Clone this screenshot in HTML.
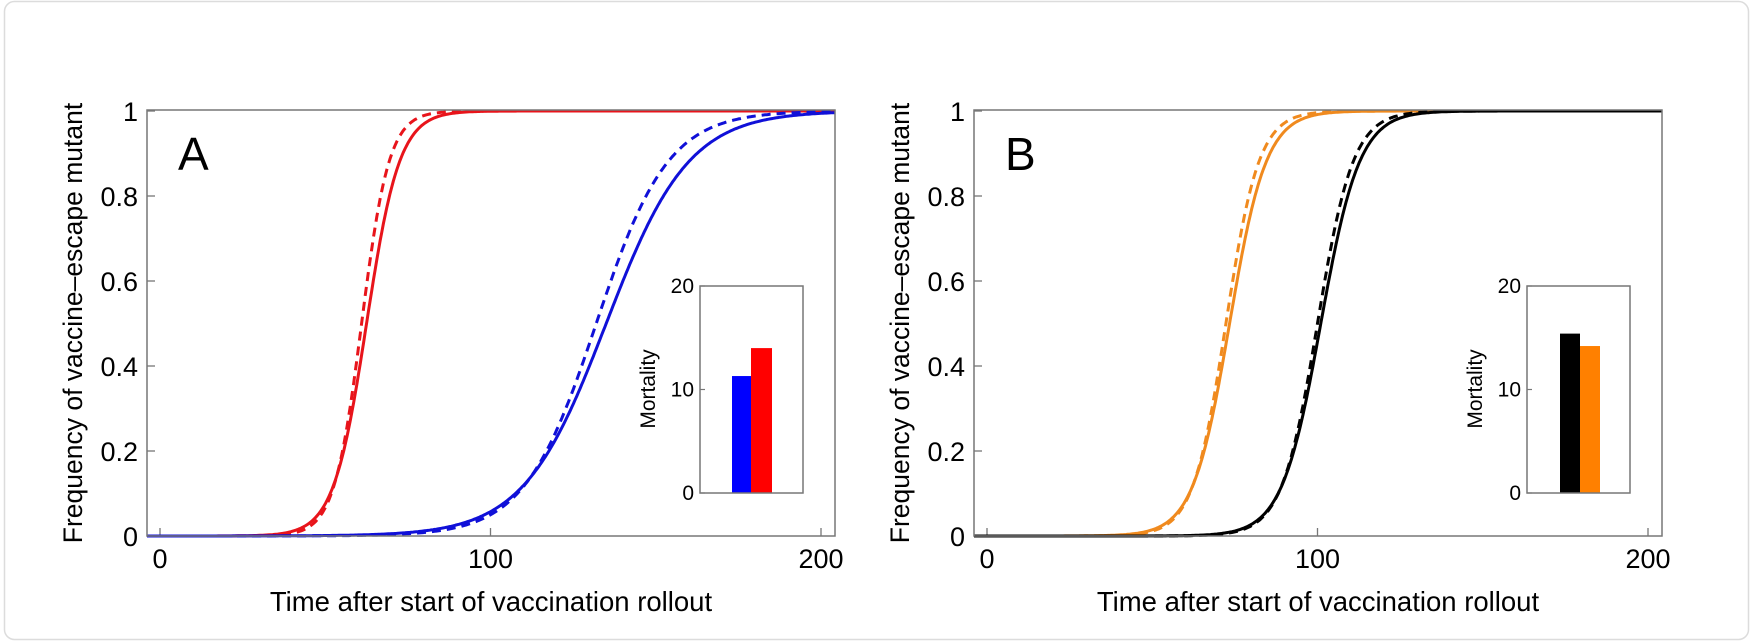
<!DOCTYPE html>
<html><head><meta charset="utf-8">
<style>
html,body{margin:0;padding:0;background:#fff;}
svg{display:block;font-family:"Liberation Sans",Arial,sans-serif;}
</style></head>
<body>
<svg id="s" width="1753" height="642" viewBox="0 0 1753 642" xmlns="http://www.w3.org/2000/svg">
<rect x="4.5" y="1.5" width="1744" height="638" rx="10" fill="#fff" stroke="#dcdcdc" stroke-width="1.5"/>
<g id="A"></g>
<g id="B" transform="translate(827,0)"></g>
</svg>
<script>
var NS="http://www.w3.org/2000/svg";
function el(p,tag,attrs,txt){var e=document.createElementNS(NS,tag);for(var k in attrs)e.setAttribute(k,attrs[k]);if(txt!==undefined)e.textContent=txt;p.appendChild(e);return e;}
var X0=147,X1=835,Y0=110,Y1=536;
function tx(t){return 160+t*3.305;}
function ty(v){return 536-v*425;}
function curve(mid,k){var d="";for(var t=-3.9;t<=204.3;t+=0.5){var v=1/(1+Math.exp(-k*(t-mid)));d+=(d?"L":"M")+tx(t).toFixed(1)+","+ty(v).toFixed(1);}return d;}
function panel(g,label,series,bars){
  el(g,"text",{x:0,y:0,transform:"translate(82,323) rotate(-90)","text-anchor":"middle","font-size":"26.5"},"Frequency of vaccine\u2013escape mutant");
  for(var i=0;i<=5;i++){var v=i*0.2,y=ty(v);
    el(g,"line",{x1:X0,y1:y,x2:X0+8,y2:y,stroke:"#777","stroke-width":1.3});
    el(g,"text",{x:138,y:y+10,"text-anchor":"end","font-size":"27"},i==0?"0":(i==5?"1":v.toFixed(1)));
  }
  [0,100,200].forEach(function(t){var x=tx(t);el(g,"line",{x1:x,y1:Y1,x2:x,y2:Y1-8,stroke:"#777","stroke-width":1.3});
    el(g,"text",{x:x,y:568,"text-anchor":"middle","font-size":"27"},String(t));});
  el(g,"text",{x:491,y:611,"text-anchor":"middle","font-size":"27.5"},"Time after start of vaccination rollout");
  el(g,"text",{x:178,y:170,"font-size":"46"},label);
  series.forEach(function(s){el(g,"path",{d:curve(s[0],s[1]),fill:"none",stroke:s[2],"stroke-width":3,"stroke-dasharray":s[3]?"9,6":"none"});});
  el(g,"rect",{x:X0,y:Y0,width:X1-X0,height:Y1-Y0,fill:"none",stroke:"#777","stroke-width":1.5});
  var ix0=700,ix1=803,iy0=286,iy1=493;
  el(g,"rect",{x:ix0,y:iy0,width:ix1-ix0,height:iy1-iy0,fill:"#fff"});
  bars.forEach(function(b){var top=iy1-b[2]*(iy1-iy0)/20;el(g,"rect",{x:b[0],y:top,width:b[1]-b[0],height:iy1-top,fill:b[3]});});
  el(g,"rect",{x:ix0,y:iy0,width:ix1-ix0,height:iy1-iy0,fill:"none",stroke:"#777","stroke-width":1.5});
  [0,10,20].forEach(function(v){var y=iy1-v*(iy1-iy0)/20;el(g,"line",{x1:ix0,y1:y,x2:ix0+5,y2:y,stroke:"#777","stroke-width":1.2});
    el(g,"text",{x:694,y:y+7,"text-anchor":"end","font-size":"21"},String(v));});
  el(g,"text",{x:0,y:0,transform:"translate(655,389) rotate(-90)","text-anchor":"middle","font-size":"21"},"Mortality");
}
panel(document.getElementById("A"),"A",
 [[62.5,0.2,"#e8141b",false],[61,0.24,"#e8141b",true],[135,0.08,"#1010d8",false],[132,0.092,"#1010d8",true]],
 [[732,751,11.3,"#0000ff"],[751,772,14,"#ff0000"]]);
panel(document.getElementById("B"),"B",
 [[73.4,0.18,"#f08a1e",false],[72.3,0.2,"#f08a1e",true],[101,0.17,"#000",false],[100,0.185,"#000",true]],
 [[733,753,15.4,"#000"],[753,773,14.2,"#ff8000"]]);
</script>
</body></html>
